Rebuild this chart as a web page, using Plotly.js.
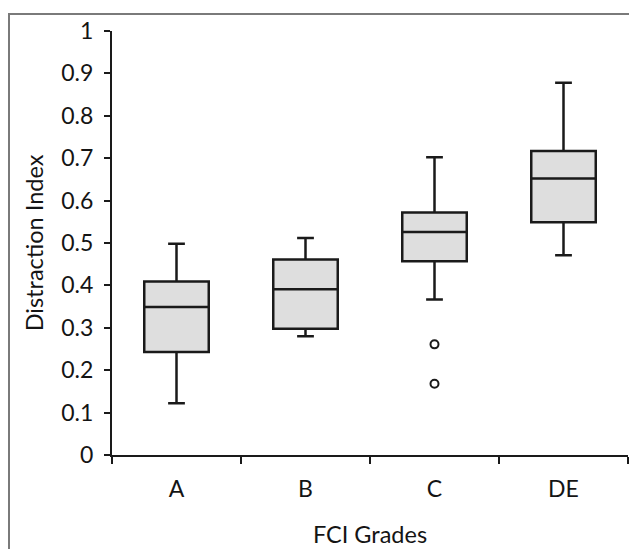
<!DOCTYPE html>
<html>
<head>
<meta charset="utf-8">
<script src="https://cdn.plot.ly/plotly-3.0.1.min.js"></script>
<style>
  html, body { margin: 0; padding: 0; background: #fff; }
  #wrap { position: relative; width: 629px; height: 549px; overflow: hidden; }
  #chart { position: absolute; left: 0; top: 0; width: 629px; height: 549px; }
  #frame { position: absolute; left: 8px; top: 13px; width: 700px; height: 700px;
           border-top: 2px solid #7a7a7a; border-left: 2px solid #7a7a7a; pointer-events: none; }
</style>
</head>
<body>
<div id="wrap">
  <div id="chart"></div>
  <div id="frame"></div>
</div>
<script>
// Data
const categories = ['A', 'B', 'C', 'DE'];
const lowerWhisker = [0.122, 0.280, 0.367, 0.471];
const quartile1   = [0.243, 0.298, 0.457, 0.549];
const medians     = [0.349, 0.391, 0.526, 0.652];
const quartile3   = [0.409, 0.461, 0.572, 0.717];
const upperWhisker = [0.498, 0.512, 0.702, 0.878];
const outlierCategories = ['C', 'C'];
const outlierValues = [0.261, 0.168];
const yTickValues = [0, 0.1, 0.2, 0.3, 0.4, 0.5, 0.6, 0.7, 0.8, 0.9, 1];
const yTickLabels = ['0', '0.1', '0.2', '0.3', '0.4', '0.5', '0.6', '0.7', '0.8', '0.9', '1'];

const ink = '#1a1a1a';
const textInk = '#141414';
const font = 'Lato, "Open Sans", sans-serif';

const traces = [
  {
    type: 'box',
    x: categories,
    q1: quartile1,
    median: medians,
    q3: quartile3,
    lowerfence: lowerWhisker,
    upperfence: upperWhisker,
    boxpoints: false,
    width: 0.5,
    whiskerwidth: 0.26,
    fillcolor: '#dedede',
    line: { color: ink, width: 2.5 },
    hoverinfo: 'skip',
    showlegend: false
  },
  {
    type: 'scatter',
    mode: 'markers',
    x: outlierCategories,
    y: outlierValues,
    marker: { symbol: 'circle-open', size: 8, color: ink, line: { width: 2, color: ink } },
    hoverinfo: 'skip',
    showlegend: false
  }
];

const layout = {
  width: 629,
  height: 549,
  margin: { l: 112, r: 1, t: 31, b: 94 },
  paper_bgcolor: 'rgba(0,0,0,0)',
  plot_bgcolor: 'rgba(0,0,0,0)',
  showlegend: false,
  font: { family: font, color: textInk, size: 23 },
  xaxis: {
    type: 'category',
    categoryorder: 'array',
    categoryarray: categories,
    range: [-0.5, 3.5],
    showline: true,
    linecolor: ink,
    linewidth: 2,
    ticks: 'outside',
    tickson: 'boundaries',
    ticklen: 7,
    tickwidth: 2,
    tickcolor: ink,
    showgrid: false,
    zeroline: false,
    ticklabelstandoff: 12,
    tickfont: { family: font, size: 23, color: textInk },
    title: { text: 'FCI Grades', font: { family: font, size: 23.5, color: textInk }, standoff: 26 },
    fixedrange: true
  },
  yaxis: {
    range: [0, 1],
    tickmode: 'array',
    tickvals: yTickValues,
    ticktext: yTickLabels,
    showline: true,
    linecolor: ink,
    linewidth: 2,
    ticks: 'outside',
    ticklen: 6,
    tickwidth: 2,
    tickcolor: ink,
    showgrid: false,
    zeroline: false,
    ticklabelstandoff: 6,
    tickfont: { family: font, size: 23, color: textInk },
    title: { text: 'Distraction Index', font: { family: font, size: 23.5, color: textInk }, standoff: 11 },
    fixedrange: true
  }
};

Plotly.newPlot('chart', traces, layout, { staticPlot: true, displayModeBar: false });
</script>
</body>
</html>
